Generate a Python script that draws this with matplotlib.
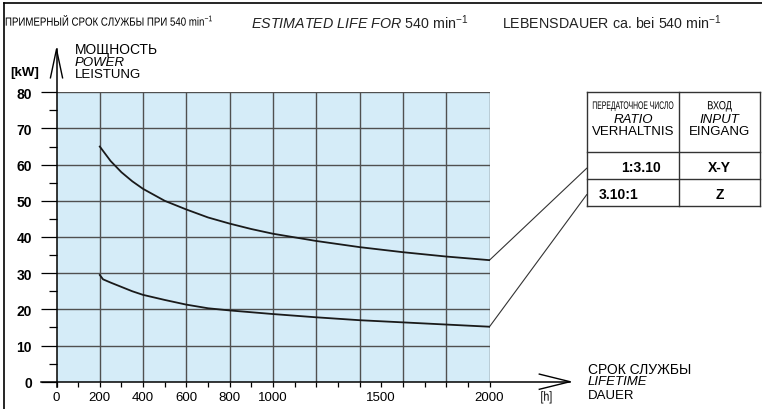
import numpy as np
import matplotlib
matplotlib.use("Agg")
import matplotlib.pyplot as plt
from matplotlib.lines import Line2D
from matplotlib.textpath import TextPath
from matplotlib.patches import PathPatch
from matplotlib.font_manager import FontProperties
from matplotlib.transforms import Affine2D

plt.rcParams['font.family'] = ['Liberation Sans', 'DejaVu Sans']
plt.rcParams['mathtext.fontset'] = 'custom'
plt.rcParams['mathtext.rm'] = 'Liberation Sans'
plt.rcParams['mathtext.it'] = 'Liberation Sans:italic'

# curves (lifetime in h, power in kW)
life_upper = [200, 250, 300, 350, 400, 500, 600, 700, 800, 900, 1000,
              1200, 1400, 1600, 1800, 2000]
power_upper = [65.0, 61.0, 57.9, 55.4, 53.3, 50.0, 47.6, 45.4, 43.7, 42.2,
               40.9, 38.9, 37.2, 35.8, 34.6, 33.6]
life_lower = [200, 215, 250, 300, 350, 400, 450, 500, 600, 700, 800, 900,
              1000, 1200, 1400, 1600, 1800, 2000]
power_lower = [29.5, 28.3, 27.4, 26.2, 25.0, 24.0, 23.3, 22.6, 21.3, 20.3,
               19.7, 19.2, 18.7, 17.8, 17.0, 16.4, 15.8, 15.2]

x_labels = [0, 200, 400, 600, 800, 1000, 1500, 2000]
y_labels = list(range(0, 81, 10))

ratios = ['1:3.10', '3.10:1']
inputs = ['X-Y', 'Z']

W, H = 762, 410
fig = plt.figure(figsize=(W / 100, H / 100), dpi=100)


def fx(x):
    return x / W


def fy(y):
    return 1 - y / H


def narrow_text(x, y, s, size, sx=0.8, ha='left', color='black', style='normal'):
    # condensed text: glyph outlines squeezed horizontally, y is the vertical centre
    fp = FontProperties(family='Liberation Sans', size=size, style=style)
    path = TextPath((0, 0), s, prop=fp)
    k = 100 / 72
    bb = path.get_extents()
    w = bb.x1 * k * sx
    x0 = x if ha == 'left' else (x - w / 2 if ha == 'center' else x - w)
    base = H - (y + 0.36 * size * k)
    tr = Affine2D().scale(k * sx, k).translate(x0, base)
    fig.add_artist(PathPatch(path, transform=tr, facecolor=color, lw=0))


# plot area in pixels: x 56.5..489.5, y 93.3..382.7
ax = fig.add_axes([fx(56.5), fy(382.7), (489.5 - 56.5) / W, (382.7 - 93.3) / H])
ax.set_xlim(0, 2000)
ax.set_ylim(0, 80)
ax.set_facecolor('#d5ecf8')
for s in ax.spines.values():
    s.set_visible(False)

grid_c = '#505050'
ax.vlines(np.arange(200, 2001, 200), 0, 80, color=grid_c, lw=1.0, zorder=1)
ax.hlines(np.arange(10, 81, 10), 0, 2000, color=grid_c, lw=1.0, zorder=1)

# curves
ax.plot(life_upper, power_upper, color='#1a1a1a', lw=1.3, zorder=3)
ax.plot(life_lower, power_lower, color='#1a1a1a', lw=1.3, zorder=3)

# axes with open arrows
ax.plot([0, 0], [-1.5, 91.9], color='black', lw=1.1, clip_on=False)
ax.plot([-28, 0, 28], [84.0, 91.9, 84.0], color='black', lw=1.0, clip_on=False)
ax.plot([-72, 2372], [0, 0], color='black', lw=1.1, clip_on=False)
ax.plot([2230, 2372, 2230], [2.1, 0, -2.1], color='black', lw=1.0, clip_on=False)

# ticks
ax.set_yticks(y_labels)
ax.set_yticks(np.arange(5, 80, 10), minor=True)
ax.tick_params(axis='y', which='major', direction='out', length=11.2, width=0.9,
               pad=6.5, labelsize=10)
ax.tick_params(axis='y', which='minor', direction='out', length=6, width=0.9)
for lab in ax.get_yticklabels():
    lab.set_fontweight('bold')

ax.set_xticks(x_labels)
ax.set_xticks([v for v in range(100, 2000, 100) if v not in x_labels], minor=True)
ax.tick_params(axis='x', which='both', direction='out', length=3.5, width=0.9,
               pad=3.5, labelsize=9.5)
ax.set_xticklabels([str(v) for v in x_labels])

# leader lines to the table
ax.plot([2000, 2449], [power_upper[-1], 59.0], color='#333333', lw=0.8, clip_on=False)
ax.plot([2000, 2449], [power_lower[-1], 51.7], color='#333333', lw=0.8, clip_on=False)

# frame of the sheet (top and left)
fig.add_artist(Line2D([fx(4), 1], [fy(4), fy(4)], color='black', lw=1.2))
fig.add_artist(Line2D([fx(4), fx(4)], [fy(4), 0], color='black', lw=1.2))

# title line
narrow_text(5, 22.5, r'ПРИМЕРНЫЙ СРОК СЛУЖБЫ ПРИ 540 min$^{-1}$', 8.5, sx=0.82)
fig.text(fx(251), fy(23), r'$\it{ESTIMATED\ LIFE\ FOR\ 540}$ min$^{-1}$',
         fontsize=10.3, va='center', ha='left', color='#222222')
fig.text(fx(722), fy(23), r'LEBENSDAUER ca. bei 540 min$^{-1}$',
         fontsize=10.3, va='center', ha='right', color='#222222')

# y axis caption
fig.text(fx(75), fy(50), 'МОЩНОСТЬ', fontsize=10, va='center')
fig.text(fx(75), fy(62.5), 'POWER', fontsize=9.5, style='italic', va='center')
fig.text(fx(75), fy(75), 'LEISTUNG', fontsize=9.5, va='center')
fig.text(fx(10), fy(73), '[kW]', fontsize=9.5, fontweight='bold', va='center')

# x axis caption
fig.text(fx(588), fy(370), 'СРОК СЛУЖБЫ', fontsize=10, va='center')
fig.text(fx(588), fy(382.5), 'LIFETIME', fontsize=9.5, style='italic', va='center')
fig.text(fx(588), fy(396), 'DAUER', fontsize=9.5, va='center')
narrow_text(546, 397, '[h]', 9.5, sx=0.8, ha='center')

# table
tl, tr, tc = 586.7, 760, 679
tt, th, tm, tb = 93.3, 153.3, 180, 206.7
tab_c = '#333333'
for y in (tt, th, tm, tb):
    fig.add_artist(Line2D([fx(tl), fx(tr)], [fy(y), fy(y)], color=tab_c, lw=1.0))
for x in (tl, tc, tr):
    fig.add_artist(Line2D([fx(x), fx(x)], [fy(tt), fy(tb)], color=tab_c, lw=1.0))

c1 = (tl + tc) / 2
c2 = (tc + tr) / 2
narrow_text(c1, 106, 'ПЕРЕДАТОЧНОЕ ЧИСЛО', 7.8, sx=0.63, ha='center')
fig.text(fx(c1), fy(120), 'RATIO', fontsize=9.5, style='italic', ha='center', va='center')
fig.text(fx(c1), fy(132), 'VERHALTNIS', fontsize=9.5, ha='center', va='center')
narrow_text(c2, 106, 'ВХОД', 8.5, sx=0.78, ha='center')
fig.text(fx(c2), fy(120), 'INPUT', fontsize=9.5, style='italic', ha='center', va='center')
fig.text(fx(c2), fy(132), 'EINGANG', fontsize=9.5, ha='center', va='center')

fig.text(fx(641), fy(168), ratios[0], fontsize=10, fontweight='bold', ha='center', va='center')
fig.text(fx(c2), fy(168), inputs[0], fontsize=10, fontweight='bold', ha='center', va='center')
fig.text(fx(599), fy(195), ratios[1], fontsize=10, fontweight='bold', ha='left', va='center')
fig.text(fx(c2), fy(195), inputs[1], fontsize=10, fontweight='bold', ha='center', va='center')

fig.savefig('out.png', dpi=100)
